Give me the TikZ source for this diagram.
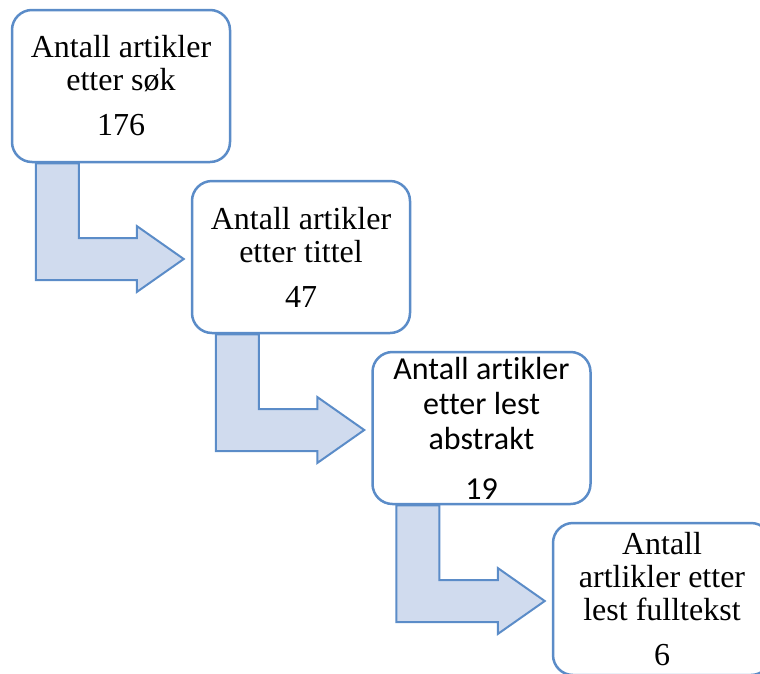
\documentclass[tikz,border=0pt]{standalone}
\usepackage{fontspec}
\setmainfont{Liberation Serif}
\newfontfamily\calibrifont[Ligatures=NoCommon]{Carlito}
\usepackage{xcolor}
\usetikzlibrary{calc, backgrounds}

\definecolor{edgeblue}{HTML}{5B8CC8}
\definecolor{fillblue}{HTML}{D0DBEE}

\begin{document}
\begin{tikzpicture}[
  x=1pt, y=-1pt,
  box/.style={draw=edgeblue, line width=2.5pt, fill=white, rounded corners=20pt,
    minimum width=218pt, minimum height=152pt, align=center, inner sep=0pt,
    font=\fontsize{32}{33}\selectfont},
  bendarrow/.style={draw=edgeblue, line width=2pt, fill=fillblue, line join=miter},
]
\useasboundingbox (0,0) rectangle (760,673);
\clip (0,0) rectangle (760,673);

% --- Boxes (each one step down and right)
\node[box] (box1) at (121,86)    {Antall artikler\\etter søk\\[12pt]176};
\node[box] (box2) at (301,257)   {Antall artikler\\etter tittel\\[12pt]47};
\node[box, font=\calibrifont\fontsize{32}{35}\selectfont]
           (box3) at (481.5,428) {Antall artikler\\etter lest\\abstrakt\\[15pt]19};
\node[box] (box4) at (662,599)   {Antall\\artlikler etter\\lest fulltekst\\[12pt]6};

% --- Bent arrows between the boxes
\begin{scope}[on background layer]
\foreach \a/\b in {box1/box2, box2/box3, box3/box4}{
  \coordinate (sl) at ($(\a.south west)+(25,0)$);
  \coordinate (sr) at ($(\a.south west)+(68,0)$);
  \coordinate (tip) at ($(\b.west)+(-7,2)$);
  \coordinate (hu) at ($(tip)+(-47,-21)$);
  \coordinate (hU) at ($(tip)+(-47,-33)$);
  \coordinate (hL) at ($(tip)+(-47,33)$);
  \coordinate (hl) at ($(tip)+(-47,21)$);
  \draw[bendarrow] (sl) -- (sr) -- (sr |- hu) -- (hu) -- (hU) -- (tip)
    -- (hL) -- (hl) -- (sl |- hl) -- cycle;
}
\end{scope}

\end{tikzpicture}
\end{document}
